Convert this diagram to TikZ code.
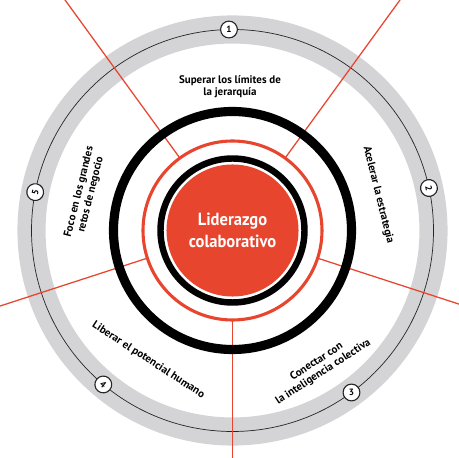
\documentclass[tikz,border=0pt]{standalone}
\usepackage{fontspec}
\setmainfont{PT Sans}
\newfontfamily\corefont[FakeStretch=0.94]{PT Sans}
\definecolor{lider_red}{HTML}{E8452F}
\definecolor{band_grey}{HTML}{D4D4D6}
\tikzset{
    band_gray/.style={
        draw=band_grey, line width=20pt
    },
    band_line/.style={
        draw=black!85, line width=0.5pt
    },
    spoke_red/.style={
        draw=lider_red, line width=0.9pt
    },
    ring_black/.style={
        draw=black
    },
    ring_red/.style={
        draw=lider_red, line width=2.2pt
    },
    core_disk/.style={
        circle, fill=lider_red, minimum size=3.3cm, inner sep=0pt,
        align=center, text=white, font=\corefont\fontsize{12.5}{15.6}\selectfont\bfseries
    },
    sector_lbl/.style={
        align=center, inner sep=0pt, font=\fontsize{7.8}{8.6}\selectfont\bfseries
    },
    num_badge/.style={
        circle, draw=black!85, fill=white, line width=0.8pt,
        minimum size=0.42cm, inner sep=0pt, font=\fontsize{6.5}{7}\selectfont\bfseries
    }
}

\begin{document}
\begin{tikzpicture}[x=0.025cm, y=0.025cm]

    \useasboundingbox (-232.5,-227.5) rectangle (226.5,230.5);
    \clip (-232.5,-227.5) rectangle (226.5,230.5);

    % outer band with its guide line
    \draw[band_gray] (0,0) circle[radius=201];
    \draw[band_line] (0,0) circle[radius=201];

    % five sector dividers
    \foreach \ang in {126, 54, -18, -90, -162}
        \draw[spoke_red] (\ang:89) -- (\ang:400);

    \draw[ring_black, line width=6.5pt] (0,0) circle[radius=119];
    \draw[ring_red] (0,0) circle[radius=89.5];
    \draw[ring_black, line width=4.6pt] (0,0) circle[radius=72];
    \node[core_disk] (core) at (0,0) {Liderazgo\\colaborativo};

    \node[sector_lbl] (lbl1) at (91:143.5) {Superar los límites de\\la jerarquía};
    \node[sector_lbl, rotate=-76] (lbl2) at (13.7:150) {Acelerar la estrategia};
    \node[sector_lbl, rotate=33] (lbl3) at (-57.3:162) {Conectar con\\la inteligencia colectiva};
    \node[sector_lbl, rotate=-33] (lbl4) at (-123:154.5) {Liberar el potencial humano};
    \node[sector_lbl, rotate=76] (lbl5) at (165.8:152) {Foco en los grandes\\retos de negocio};

    \node[num_badge] (n1) at (91:201) {1};
    \node[num_badge, rotate=-78] (n2) at (12.2:201) {2};
    \node[num_badge] (n3) at (-53.7:201) {3};
    \node[num_badge, rotate=-40] (n4) at (-130:201) {4};
    \node[num_badge, rotate=79] (n5) at (169:201) {5};

\end{tikzpicture}
\end{document}
